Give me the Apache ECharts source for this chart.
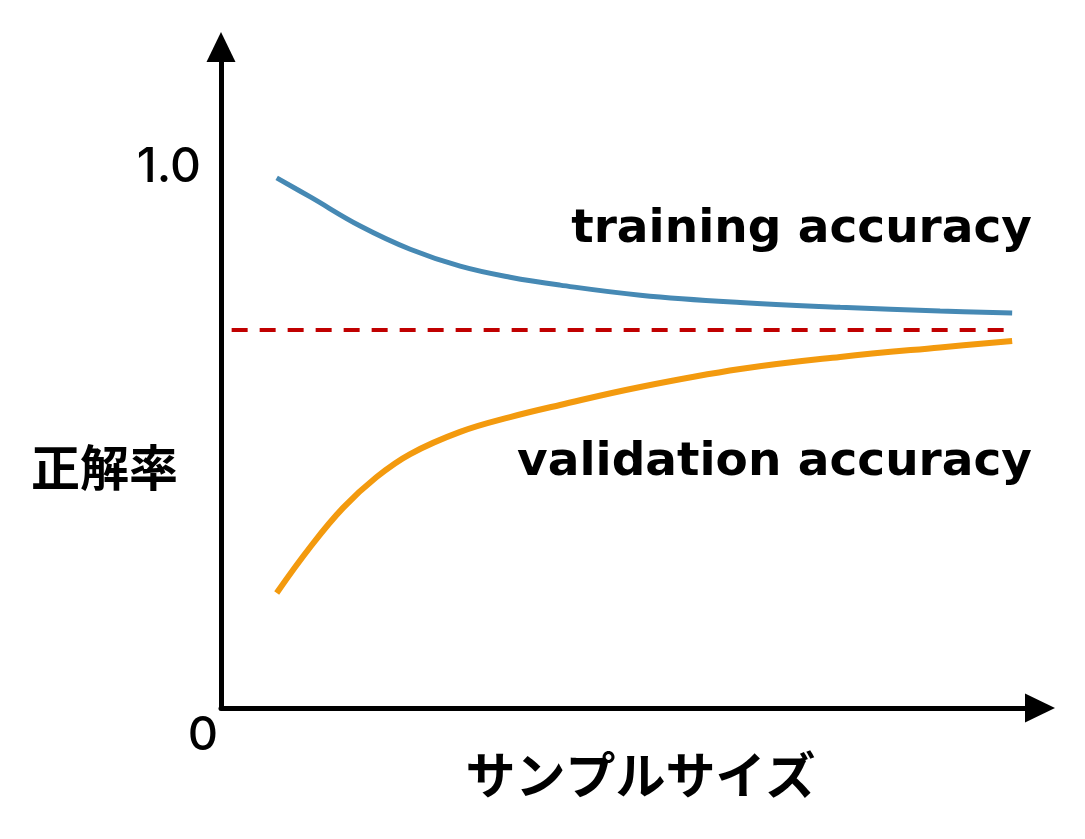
<!DOCTYPE html>
<html>
<head>
<meta charset="utf-8">
<script src="https://cdn.jsdelivr.net/npm/echarts@6/dist/echarts.min.js"></script>
<style>
  html, body { margin: 0; padding: 0; background: #fff; }
  #chart { width: 1085px; height: 839px; }
</style>
</head>
<body>
<div id="chart"></div>
<script>
// サンプルサイズ (x) と正解率 (y)
var trainSize = [6.8, 10.9, 17.0, 23.1, 29.2, 35.3, 41.4, 51.2, 63.4, 75.6, 87.8, 96.6]
var trainAcc = [1.004, 0.968, 0.913, 0.869, 0.837, 0.816, 0.801, 0.782, 0.768, 0.759, 0.752, 0.748]
var validSize = [6.8, 10.9, 14.9, 19.0, 23.1, 29.2, 35.3, 41.4, 51.2, 63.4, 75.6, 87.8, 96.6]
var validAcc = [0.218, 0.305, 0.379, 0.4375, 0.481, 0.523, 0.551, 0.574, 0.608, 0.642, 0.665, 0.683, 0.695]
var limitX = [1.3, 95.7]
var limitY = 0.716
var yTicks = [1.0]
var xTicks = [0]

var jpFont = '"Noto Sans CJK JP", sans-serif'
var enFont = '"DejaVu Sans", sans-serif'
var numFont = 'Inter, "Noto Sans", sans-serif'

function pairs(xs, ys) {
  var out = []
  for (var i = 0; i < xs.length; i++) out.push([xs[i], ys[i]])
  return out
}

var myechart = echarts.init(document.getElementById('chart'))
var config = {
  animation: false,
  backgroundColor: '#fff',
  grid: { left: 221, right: 45, top: 47, bottom: 131, containLabel: false, outerBoundsMode: 'none' },
  xAxis: {
    type: 'value',
    min: 0,
    max: 100,
    name: 'サンプルサイズ',
    nameLocation: 'middle',
    nameGap: 42,
    nameMoveOverlap: false,
    nameTextStyle: { fontFamily: jpFont, fontWeight: 'bold', fontSize: 50, color: '#000', padding: [0, 0, 0, 20] },
    axisLine: { show: true, symbol: ['none', 'triangle'], symbolSize: [29, 30], lineStyle: { color: '#000', width: 5 } },
    axisTick: { show: false },
    splitLine: { show: false },
    axisLabel: {
      customValues: xTicks,
      fontFamily: numFont, fontWeight: 500, fontSize: 47, color: '#000',
      margin: 4,
      padding: [0, 36, 0, 0],
      formatter: function (v) { return String(v) }
    }
  },
  yAxis: {
    type: 'value',
    min: 0,
    max: 1.252,
    axisLine: { show: true, symbol: ['none', 'triangle'], symbolSize: [29, 30], lineStyle: { color: '#000', width: 5 } },
    axisTick: { show: false },
    splitLine: { show: false },
    axisLabel: {
      customValues: yTicks,
      fontFamily: numFont, fontWeight: 500, fontSize: 48, color: '#000',
      margin: 20,
      verticalAlign: 'bottom',
      lineHeight: 24,
      formatter: function (v) { return v.toFixed(1) }
    }
  },
  graphic: [
    { type: 'text', left: 31, top: 443, style: { text: '正解率', font: 'bold 49px ' + jpFont, fill: '#000' } },
    { type: 'text', right: 53, top: 206, style: { text: 'training accuracy', font: 'bold 47px ' + enFont, fill: '#000' } },
    { type: 'text', right: 53, top: 439, style: { text: 'validation accuracy', font: 'bold 47px ' + enFont, fill: '#000' } }
  ],
  series: [
    {
      type: 'line',
      name: 'training accuracy',
      data: pairs(trainSize, trainAcc),
      smooth: 0.4,
      showSymbol: false,
      lineStyle: { color: '#4689b4', width: 5 }
    },
    {
      type: 'line',
      name: 'validation accuracy',
      data: pairs(validSize, validAcc),
      smooth: 0.4,
      showSymbol: false,
      lineStyle: { color: '#f39a0e', width: 6 }
    },
    {
      type: 'line',
      name: 'limit',
      data: pairs(limitX, [limitY, limitY]),
      showSymbol: false,
      lineStyle: { color: '#c00000', width: 4, type: [16, 12] }
    }
  ]
}
myechart.setOption(config)
</script>
</body>
</html>
